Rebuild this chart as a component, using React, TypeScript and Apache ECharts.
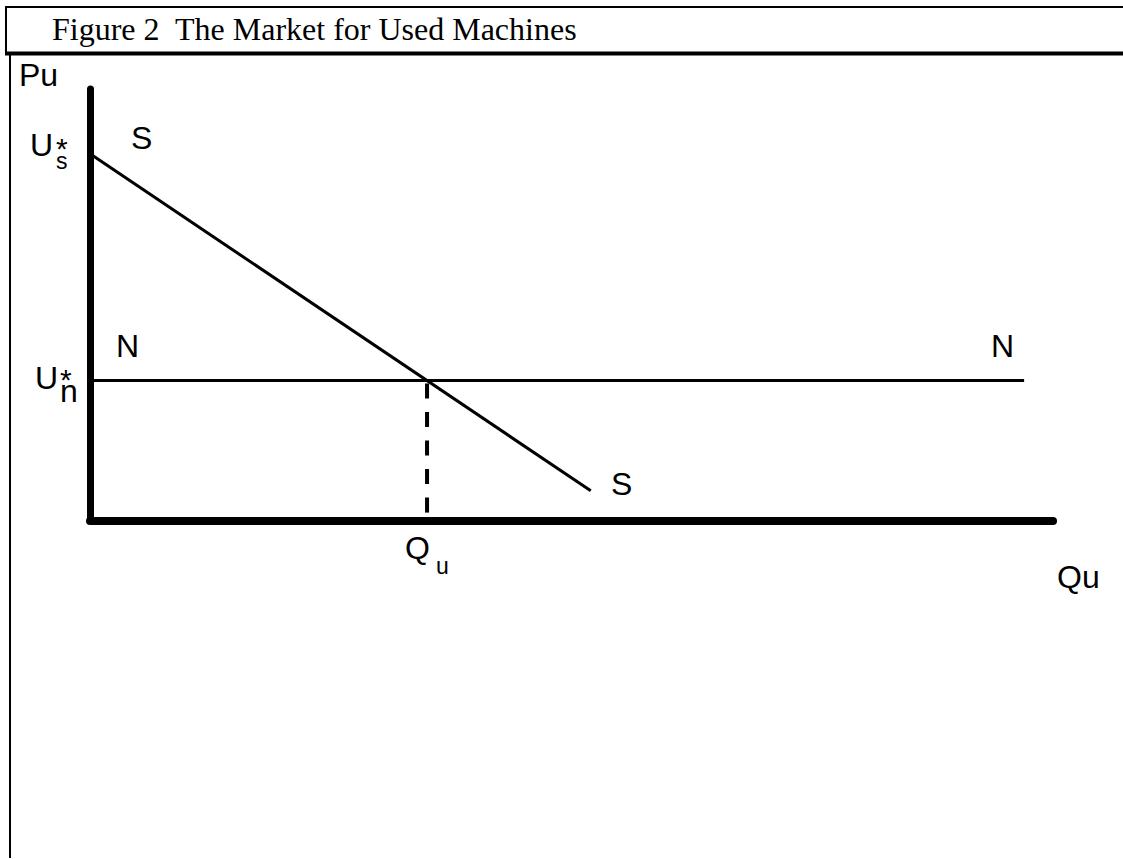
import React, { useEffect, useRef } from "react";
import * as echarts from "echarts";

// Data (value space: quantity 0..100, price 0..100)
const supplyQ = [0, 52];
const supplyP = [85, 7];
const nQ = [0, 97];
const nP = [32.5, 32.5];
const quValue = 35;
const quP = 32.5;

const titleText = "Figure 2  The Market for Used Machines";
const yAxisName = "Pu";
const xAxisName = "Qu";

const SANS = "'Liberation Sans', Arial, sans-serif";
const SERIF = "'Liberation Serif', 'Times New Roman', serif";

function txt(text: string, x: number, y: number, size: number, font = SANS) {
  return {
    type: "text",
    x,
    y,
    silent: true,
    style: {
      text,
      fill: "#000",
      fontSize: size,
      fontFamily: font,
      align: "left",
      verticalAlign: "middle",
    },
  };
}

// stacked superscript "*" over a subscript letter, as one rich text
function stack(sub: string, x: number, y: number, supSize: number, subSize: number, l1: number, l2: number) {
  return {
    type: "text",
    x,
    y,
    silent: true,
    style: {
      text: "{a|*}\n{b|" + sub + "}",
      fill: "#000",
      fontFamily: SANS,
      align: "left",
      verticalAlign: "top",
      rich: {
        a: { fontSize: supSize, lineHeight: l1, fontFamily: SANS, fill: "#000" },
        b: { fontSize: subSize, lineHeight: l2, fontFamily: SANS, fill: "#000" },
      },
    },
  };
}

function ln(x1: number, y1: number, x2: number, y2: number, w: number) {
  return {
    type: "line",
    silent: true,
    shape: { x1, y1, x2, y2 },
    style: { stroke: "#000", lineWidth: w },
  };
}

export default function App() {
  const ref = useRef<HTMLDivElement>(null);
  useEffect(() => {
    if (!ref.current) return;
    const chart = echarts.init(ref.current, undefined, { renderer: "svg" });
    const option = {
      animation: false,
      backgroundColor: "#fff",
      grid: { left: 90, right: 70, top: 89, bottom: 338 },
      xAxis: {
        type: "value",
        min: 0,
        max: 100,
        axisLine: { show: true, onZero: false, lineStyle: { color: "#000", width: 8 } },
        axisTick: { show: false },
        axisLabel: { show: false },
        splitLine: { show: false },
      },
      yAxis: {
        type: "value",
        min: 0,
        max: 100,
        axisLine: { show: true, onZero: false, lineStyle: { color: "#000", width: 7 } },
        axisTick: { show: false },
        axisLabel: { show: false },
        splitLine: { show: false },
      },
      series: [
        {
          type: "line",
          name: "S",
          data: supplyQ.map((q, i) => [q, supplyP[i]]),
          symbol: "none",
          silent: true,
          lineStyle: { color: "#000", width: 3 },
        },
        {
          type: "line",
          name: "N",
          data: nQ.map((q, i) => [q, nP[i]]),
          symbol: "none",
          silent: true,
          lineStyle: { color: "#000", width: 3 },
        },
        {
          type: "line",
          name: "Qu",
          data: [
            [quValue, quP],
            [quValue, 0],
          ],
          symbol: "none",
          silent: true,
          lineStyle: { color: "#000", width: 4, type: [15, 13.5], dashOffset: -3 },
        },
      ],
      graphic: [
        // frame
        ln(6, 7, 1123, 7, 2),
        ln(6, 6, 6, 54, 2),
        ln(5, 53.5, 1123, 53.5, 4),
        ln(10, 54, 10, 858, 2),
        txt(titleText, 52, 29, 32, SERIF),
        txt(yAxisName, 19, 75, 32),
        txt(xAxisName, 1057, 577, 32),
        txt("S", 131, 137.5, 32),
        txt("S", 611, 484, 32),
        txt("N", 116, 345.5, 32),
        txt("N", 991, 345.5, 32),
        // U*s
        txt("U", 30, 145, 32),
        stack("s", 56, 142, 30, 23, 12, 13),
        // U*n
        txt("U", 35, 378, 32),
        stack("n", 60, 373, 30, 32, 12, 12),
        // Q u
        txt("Q", 405, 547.5, 32),
        txt("u", 436, 566, 23),
      ],
    };
    chart.setOption(option as any);
    return () => chart.dispose();
  }, []);
  return (
    <div
      ref={ref}
      style={{ position: "fixed", left: 0, top: 0, width: 1123, height: 859, background: "#fff" }}
    />
  );
}
